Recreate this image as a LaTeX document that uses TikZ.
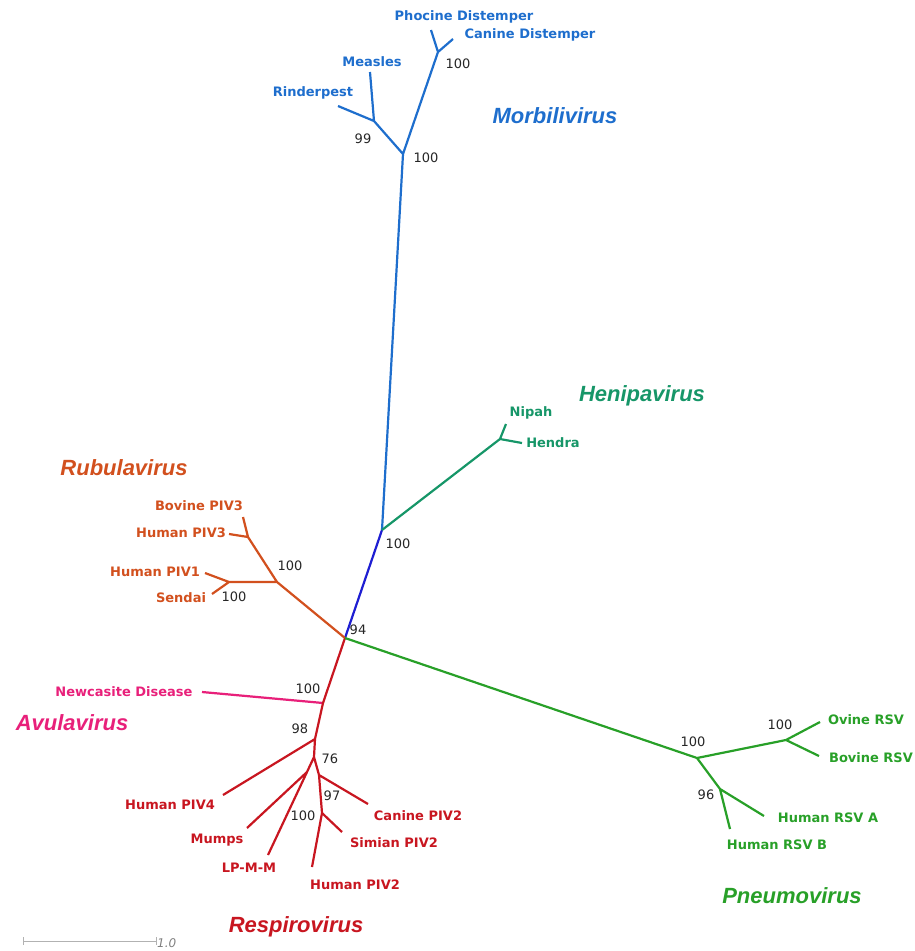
\documentclass[tikz,border=0pt]{standalone}
\usepackage{fontspec}
\newfontfamily\labfont{DejaVu Sans}
\newfontfamily\cladefont{Liberation Sans}
\definecolor{morbi}{RGB}{30,110,205}
\definecolor{heni}{RGB}{22,150,104}
\definecolor{rubula}{RGB}{210,80,30}
\definecolor{avula}{RGB}{232,32,122}
\definecolor{respiro}{RGB}{200,22,32}
\definecolor{pneumo}{RGB}{40,160,40}
\definecolor{stem}{RGB}{30,30,210}
\begin{document}
\begin{tikzpicture}[x=1pt,y=-1pt,
  branch/.style={line width=2.2pt},
  taxon/.style={inner sep=0pt,font=\labfont\bfseries\fontsize{13}{15}\selectfont},
  boot/.style={inner sep=0pt,text=black!85,font=\labfont\fontsize{13}{15}\selectfont},
  clade/.style={inner sep=0pt,font=\cladefont\bfseries\itshape\fontsize{22}{26}\selectfont}]
\useasboundingbox (0,0) rectangle (915,951);

% internal nodes
\coordinate (A) at (345,638);
\coordinate (B) at (382,530);
\coordinate (M) at (403,154);
\coordinate (R) at (374,121);
\coordinate (P) at (438,52);
\coordinate (H) at (500,439);
\coordinate (RU) at (277,582);
\coordinate (P3) at (248,537);
\coordinate (P1) at (229,582);
\coordinate (N) at (323,703);
\coordinate (Q) at (315,739);
\coordinate (S) at (314,757);
\coordinate (MU) at (307,772);
\coordinate (T) at (319,775);
\coordinate (U) at (322,813);
\coordinate (PN) at (697,758);
\coordinate (OB) at (786,740);
\coordinate (HR) at (720,789);

% tips
\coordinate (tPho) at (431,30);
\coordinate (tCan) at (453,39);
\coordinate (tMea) at (370,72);
\coordinate (tRin) at (338,106);
\coordinate (tNip) at (506,424);
\coordinate (tHen) at (522,443);
\coordinate (tBP3) at (243,517);
\coordinate (tHP3) at (229,534);
\coordinate (tHP1) at (205,573);
\coordinate (tSen) at (212,594);
\coordinate (tNew) at (202,692);
\coordinate (tHP4) at (223,795);
\coordinate (tMum) at (247,828);
\coordinate (tLP) at (268,855);
\coordinate (tCP2) at (368,804);
\coordinate (tSP2) at (342,832);
\coordinate (tHP2) at (312,867);
\coordinate (tOv) at (820,722);
\coordinate (tBov) at (819,756);
\coordinate (tRA) at (764,816);
\coordinate (tRB) at (730,829);

% branches
\draw[branch,stem] (A) -- (B);
\draw[branch,morbi] (B) -- (M) (M) -- (R) (R) -- (tRin) (R) -- (tMea)
  (M) -- (P) (P) -- (tPho) (P) -- (tCan);
\draw[branch,heni] (B) -- (H) (H) -- (tNip) (H) -- (tHen);
\draw[branch,rubula] (A) -- (RU) (RU) -- (P3) (P3) -- (tBP3) (P3) -- (tHP3)
  (RU) -- (P1) (P1) -- (tHP1) (P1) -- (tSen);
\draw[branch,avula] (N) -- (tNew);
\draw[branch,respiro] (A) -- (N) (N) -- (Q) (Q) -- (tHP4) (Q) -- (S)
  (S) -- (MU) (MU) -- (tMum) (MU) -- (tLP) (S) -- (T) (T) -- (tCP2)
  (T) -- (U) (U) -- (tSP2) (U) -- (tHP2);
\draw[branch,pneumo] (A) -- (PN) (PN) -- (OB) (OB) -- (tOv) (OB) -- (tBov)
  (PN) -- (HR) (HR) -- (tRA) (HR) -- (tRB);

% taxon labels
\node[taxon,morbi] (lPho) at (464,17) {Phocine Distemper};
\node[taxon,morbi] (lCan) at (530,35) {Canine Distemper};
\node[taxon,morbi] (lMea) at (372,62) {Measles};
\node[taxon,morbi] (lRin) at (313,93) {Rinderpest};
\node[taxon,heni] (lNip) at (531,413) {Nipah};
\node[taxon,heni] (lHen) at (553,443) {Hendra};
\node[taxon,rubula] (lBP3) at (199,506) {Bovine PIV3};
\node[taxon,rubula] (lHP3) at (181,533) {Human PIV3};
\node[taxon,rubula] (lHP1) at (155,572) {Human PIV1};
\node[taxon,rubula] (lSen) at (181,598) {Sendai};
\node[taxon,avula] (lNew) at (124,692) {Newcasite Disease};
\node[taxon,respiro] (lHP4) at (170,805) {Human PIV4};
\node[taxon,respiro] (lMum) at (217,840) {Mumps};
\node[taxon,respiro] (lLP) at (249,868) {LP-M-M};
\node[taxon,respiro] (lHP2) at (355,885) {Human PIV2};
\node[taxon,respiro] (lCP2) at (418,816) {Canine PIV2};
\node[taxon,respiro] (lSP2) at (394,843) {Simian PIV2};
\node[taxon,pneumo] (lOv) at (866,720) {Ovine RSV};
\node[taxon,pneumo] (lBov) at (871,758) {Bovine RSV};
\node[taxon,pneumo] (lRA) at (828,818) {Human RSV A};
\node[taxon,pneumo] (lRB) at (777,845) {Human RSV B};

% bootstrap values
\node[boot] (bA) at (358,630) {94};
\node[boot] (bB) at (398,544) {100};
\node[boot] (bM) at (426,158) {100};
\node[boot] (bR) at (363,139) {99};
\node[boot] (bP) at (458,64) {100};
\node[boot] (bRU) at (290,566) {100};
\node[boot] (bP1) at (234,597) {100};
\node[boot] (bN) at (308,689) {100};
\node[boot] (bQ) at (300,729) {98};
\node[boot] (bS) at (330,759) {76};
\node[boot] (bT) at (332,796) {97};
\node[boot] (bMU) at (303,816) {100};
\node[boot] (bPN) at (693,742) {100};
\node[boot] (bOB) at (780,725) {100};
\node[boot] (bHR) at (706,795) {96};

% clade names
\node[clade,morbi] (cMor) at (555,116) {Morbilivirus};
\node[clade,heni] (cHen) at (642,396) {Henipavirus};
\node[clade,rubula] (cRub) at (124,468) {Rubulavirus};
\node[clade,avula] (cAvu) at (72,723) {Avulavirus};
\node[clade,respiro] (cRes) at (296,927) {Respirovirus};
\node[clade,pneumo] (cPne) at (792,896) {Pneumovirus};

% scale bar
\coordinate (s0) at (23,941);
\coordinate (s1) at (156,941);
\draw[gray!60,line width=0.9pt] (s0) -- (s1)
  ([yshift=-4]s0) -- ([yshift=4]s0) ([yshift=-4]s1) -- ([yshift=4]s1);
\node[inner sep=0pt,anchor=west,text=gray,font=\labfont\itshape\fontsize{12}{14}\selectfont] (sl) at (157,943) {1.0};
\end{tikzpicture}
\end{document}
